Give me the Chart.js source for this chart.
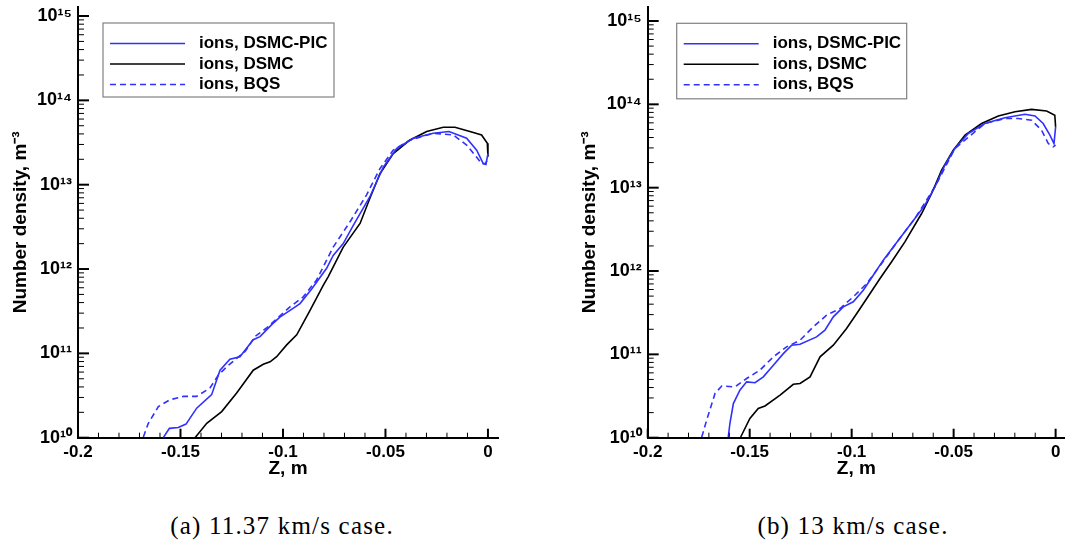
<!DOCTYPE html>
<html>
<head>
<meta charset="utf-8">
<script src="https://cdn.jsdelivr.net/npm/chart.js@4.4.0/dist/chart.umd.min.js"></script>
<style>
  body { margin: 0; background: #fff; width: 1065px; height: 550px; position: relative; overflow: hidden; }
  canvas { position: absolute; top: 0; }
  #chartA { left: 0; }
  #chartB { left: 532px; }
  .caption { position: absolute; top: 512px; font-family: "Liberation Serif", serif; font-size: 25px;
             letter-spacing: 1.2px; color: #000; white-space: nowrap; transform: translateX(-50%); }
</style>
</head>
<body>
<canvas id="chartA" width="532" height="480"></canvas>
<canvas id="chartB" width="533" height="480"></canvas>
<div class="caption" style="left:282px">(a) 11.37 km/s case.</div>
<div class="caption" style="left:853px">(b) 13 km/s case.</div>
<script>
// (a) 11.37 km/s  -- Z in m, ion number density in m^-3
var zA_pic = [-0.1584, -0.1554, -0.1511, -0.1473, -0.1421, -0.1348, -0.1307, -0.1259, -0.1210, -0.1145,
              -0.1112, -0.1055, -0.1015, -0.0960, -0.0917, -0.0860, -0.0787, -0.0755, -0.0706, -0.0657,
              -0.0576, -0.0510, -0.0445, -0.0364, -0.0267, -0.0190, -0.0104, -0.0055, -0.0023, -0.0010, 0.0];
var nA_pic = [1.0e10, 1.29e10, 1.32e10, 1.45e10, 2.24e10, 3.24e10, 6.3e10, 8.5e10, 9.1e10, 1.45e11,
              1.58e11, 2.19e11, 2.69e11, 3.3e11, 3.89e11, 5.8e11, 1.02e12, 1.45e12, 2.0e12, 3.3e12,
              7.2e12, 1.62e13, 2.69e13, 3.55e13, 4.07e13, 4.27e13, 3.55e13, 2.57e13, 1.78e13, 1.74e13, 2.34e13];

var zA_dsmc = [-0.1429, -0.1372, -0.1299, -0.1226, -0.1145, -0.1096, -0.1063, -0.1031, -0.0982, -0.0933,
               -0.0868, -0.0803, -0.0779, -0.0706, -0.0624, -0.0576, -0.0527, -0.0462, -0.0380, -0.0299,
               -0.0218, -0.0161, -0.0088, -0.0031, -0.0003, 0.0];
var nA_dsmc = [1.0e10, 1.48e10, 2.04e10, 3.39e10, 6.31e10, 7.41e10, 7.94e10, 9.12e10, 1.26e11, 1.66e11,
               3.24e11, 6.46e11, 8.13e11, 1.82e12, 3.47e12, 6.9e12, 1.35e13, 2.34e13, 3.39e13, 4.27e13,
               4.79e13, 4.79e13, 4.27e13, 3.89e13, 3.09e13, 2.14e13];

var zA_bqs = [-0.1681, -0.1657, -0.1608, -0.1551, -0.1486, -0.1421, -0.1356, -0.1316, -0.1275, -0.1226,
              -0.1185, -0.1137, -0.1080, -0.1031, -0.0966, -0.0901, -0.0836, -0.0755, -0.0673, -0.0592,
              -0.0527, -0.0462, -0.0380, -0.0267, -0.0169, -0.0104, -0.0063, -0.0031, -0.0012, -0.0004];
var nA_bqs = [1.02e10, 1.48e10, 2.34e10, 2.82e10, 3.09e10, 3.09e10, 3.89e10, 5.5e10, 6.92e10, 8.71e10,
              1.05e11, 1.58e11, 2.0e11, 2.57e11, 3.55e11, 4.68e11, 7.41e11, 1.82e12, 3.63e12, 7.59e12,
              1.55e13, 2.57e13, 3.39e13, 4.07e13, 3.89e13, 2.95e13, 2.24e13, 1.78e13, 1.78e13, 1.95e13];

// (b) 13 km/s
var zB_pic = [-0.1605, -0.1597, -0.1580, -0.1548, -0.1515, -0.1474, -0.1433, -0.1384, -0.1335, -0.1294,
              -0.1253, -0.1172, -0.1131, -0.1090, -0.1041, -0.0992, -0.0943, -0.0894, -0.0845, -0.0771,
              -0.0690, -0.0641, -0.0592, -0.0543, -0.0494, -0.0428, -0.0347, -0.0249, -0.0150, -0.0101,
              -0.0061, -0.0028, -0.0008, 0.0];
var nB_pic = [1.02e10, 1.48e10, 2.57e10, 3.72e10, 4.68e10, 4.57e10, 5.37e10, 7.41e10, 1.02e11, 1.29e11,
              1.32e11, 1.62e11, 1.95e11, 2.82e11, 3.72e11, 4.27e11, 5.89e11, 8.91e11, 1.35e12, 2.34e12,
              4.27e12, 6.17e12, 1.02e13, 1.86e13, 2.95e13, 4.47e13, 5.89e13, 6.92e13, 7.59e13, 7.24e13,
              5.89e13, 4.27e13, 3.39e13, 5.37e13];

var zB_dsmc = [-0.1544, -0.1499, -0.1458, -0.1425, -0.1351, -0.1286, -0.1253, -0.1204, -0.1155, -0.1090,
               -0.1025, -0.0975, -0.0926, -0.0861, -0.0804, -0.0739, -0.0657, -0.0608, -0.0559, -0.0502,
               -0.0444, -0.0363, -0.0281, -0.0199, -0.0118, -0.0044, -0.0004, 0.0];
var nB_dsmc = [1.02e10, 1.70e10, 2.24e10, 2.40e10, 3.24e10, 4.37e10, 4.47e10, 5.37e10, 9.33e10, 1.29e11,
               2.04e11, 3.09e11, 4.68e11, 8.13e11, 1.29e12, 2.24e12, 4.9e12, 8.51e12, 1.62e13, 2.82e13,
               4.27e13, 5.89e13, 7.24e13, 8.13e13, 8.71e13, 8.32e13, 7.41e13, 5.37e13];

var zB_bqs = [-0.1735, -0.1711, -0.1670, -0.1637, -0.1572, -0.1515, -0.1450, -0.1384, -0.1319, -0.1253,
              -0.1188, -0.1123, -0.1057, -0.0992, -0.0926, -0.0853, -0.0771, -0.0690, -0.0592, -0.0494,
              -0.0347, -0.0249, -0.0183, -0.0118, -0.0069, -0.0036, -0.0012, 0.0];
var nB_bqs = [1.02e10, 1.62e10, 3.39e10, 4.17e10, 4.07e10, 5.13e10, 6.46e10, 9.33e10, 1.23e11, 1.48e11,
              2.14e11, 2.95e11, 3.55e11, 4.9e11, 7.08e11, 1.23e12, 2.34e12, 4.27e12, 1.02e13, 2.95e13,
              5.89e13, 6.76e13, 6.76e13, 6.46e13, 4.9e13, 3.39e13, 3.09e13, 3.24e13];

var seriesLabels = ['ions, DSMC-PIC', 'ions, DSMC', 'ions, BQS'];
var xTickValues = [-0.2, -0.15, -0.1, -0.05, 0];
var xTickLabels = ['-0.2', '-0.15', '-0.1', '-0.05', '0'];
var yTickValues = [1e10, 1e11, 1e12, 1e13, 1e14, 1e15];
var yTickLabels = ['10\u00b9\u2070', '10\u00b9\u00b9', '10\u00b9\u00b2', '10\u00b9\u00b3', '10\u00b9\u2074', '10\u00b9\u2075'];

var FONT = '"Liberation Sans", Arial, Helvetica, sans-serif';
var BLUE = 'rgb(48,48,255)';

function pts(zs, ns) {
    return zs.map(function (z, i) { return {x: z, y: ns[i]}; });
}

function series(label, zs, ns, color, dash) {
    return {
        label: label,
        data: pts(zs, ns),
        borderColor: color,
        borderWidth: 1.6,
        borderDash: dash,
        pointRadius: 0,
        tension: 0,
        fill: false
    };
}

function xIndex(v) {
    for (var i = 0; i < xTickValues.length; i++) if (Math.abs(v - xTickValues[i]) < 1e-9) return i;
    return -1;
}
function yIndex(v) {
    for (var i = 0; i < yTickValues.length; i++) if (Math.abs(v / yTickValues[i] - 1) < 1e-6) return i;
    return -1;
}

// tick marks pointing into the plot, like the original figure
var insideTicks = {
    id: 'insideTicks',
    afterDatasetsDraw: function (chart) {
        var ctx = chart.ctx, a = chart.chartArea;
        var xs = chart.scales.x, ys = chart.scales.y;
        ctx.save();
        ctx.strokeStyle = '#000';
        xs.ticks.forEach(function (t) {
            var px = xs.getPixelForValue(t.value), major = xIndex(t.value) >= 0;
            ctx.lineWidth = major ? 2 : 1;
            ctx.beginPath();
            ctx.moveTo(px, a.bottom);
            ctx.lineTo(px, a.bottom - (major ? 9 : 5));
            ctx.stroke();
        });
        ys.ticks.forEach(function (t) {
            var py = ys.getPixelForValue(t.value), major = yIndex(t.value) >= 0;
            ctx.lineWidth = major ? 2 : 1;
            ctx.beginPath();
            ctx.moveTo(a.left, py);
            ctx.lineTo(a.left + (major ? 11 : 6), py);
            ctx.stroke();
        });
        ctx.restore();
    }
};

// framed legend placed inside the plot
var boxLegend = {
    id: 'boxLegend',
    afterDraw: function (chart, args, opts) {
        var ctx = chart.ctx, a = chart.chartArea;
        var x0 = a.left + opts.dx, y0 = a.top + opts.dy;
        ctx.save();
        ctx.fillStyle = '#fff';
        ctx.fillRect(x0, y0, opts.w, opts.h);
        ctx.strokeStyle = '#808080';
        ctx.lineWidth = 1.2;
        ctx.strokeRect(x0, y0, opts.w, opts.h);
        ctx.font = 'bold 17px ' + FONT;
        ctx.textBaseline = 'middle';
        chart.data.datasets.forEach(function (ds, i) {
            var y = y0 + 20.5 + i * 20.5;
            ctx.strokeStyle = ds.borderColor;
            ctx.lineWidth = ds.borderWidth;
            ctx.setLineDash(ds.borderDash || []);
            ctx.beginPath();
            ctx.moveTo(x0 + 7, y);
            ctx.lineTo(x0 + 82, y);
            ctx.stroke();
            ctx.setLineDash([]);
            ctx.fillStyle = '#000';
            ctx.fillText(ds.label, x0 + 96, y);
        });
        ctx.restore();
    }
};

function makeChart(id, pic, dsmc, bqs, xMax, yMax, pad, yWidth, legendPos) {
    return new Chart(document.getElementById(id), {
        type: 'line',
        data: {
            datasets: [
                series(seriesLabels[0], pic[0], pic[1], BLUE, []),
                series(seriesLabels[1], dsmc[0], dsmc[1], '#000', []),
                series(seriesLabels[2], bqs[0], bqs[1], BLUE, [6, 4])
            ]
        },
        plugins: [insideTicks, boxLegend],
        options: {
            responsive: false,
            animation: false,
            layout: {padding: pad},
            plugins: {
                legend: {display: false},
                tooltip: {enabled: false},
                boxLegend: legendPos
            },
            scales: {
                x: {
                    type: 'linear',
                    min: -0.2,
                    max: xMax,
                    afterBuildTicks: function (s) {
                        var t = [];
                        for (var i = -20; i <= 0; i++) t.push({value: i / 100});
                        s.ticks = t;
                    },
                    afterFit: function (s) {
                        s.height = 480 - 437.7;
                        s.paddingLeft = 0;
                        s.paddingRight = 0;
                    },
                    grid: {display: false, drawTicks: false},
                    border: {display: true, color: '#000', width: 2},
                    ticks: {
                        autoSkip: false,
                        maxRotation: 0,
                        padding: 4,
                        color: '#000',
                        font: {family: FONT, size: 17, weight: 'bold'},
                        callback: function (v) {
                            var k = xIndex(v);
                            return k < 0 ? '' : xTickLabels[k];
                        }
                    },
                    title: {
                        display: true,
                        text: 'Z, m',
                        color: '#000',
                        padding: 0,
                        font: {family: FONT, size: 19, weight: 'bold'}
                    }
                },
                y: {
                    type: 'logarithmic',
                    min: 1e10,
                    max: yMax,
                    afterBuildTicks: function (s) {
                        var t = [];
                        for (var e = 10; e < 15; e++) {
                            for (var m = 1; m < 10; m++) t.push({value: m * Math.pow(10, e)});
                        }
                        t.push({value: 1e15});
                        s.ticks = t;
                    },
                    afterFit: function (s) {
                        s.width = yWidth;
                        s.paddingTop = 0;
                        s.paddingBottom = 0;
                    },
                    grid: {display: false, drawTicks: false},
                    border: {display: true, color: '#000', width: 2},
                    ticks: {
                        autoSkip: false,
                        padding: 6,
                        color: '#000',
                        font: {family: FONT, size: 18, weight: 'bold'},
                        callback: function (v) {
                            var k = yIndex(v);
                            return k < 0 ? '' : yTickLabels[k];
                        }
                    },
                    title: {
                        display: true,
                        text: 'Number density, m\u207b\u00b3',
                        color: '#000',
                        padding: 0,
                        font: {family: FONT, size: 19, weight: 'bold'}
                    }
                }
            }
        }
    });
}

makeChart('chartA', [zA_pic, nA_pic], [zA_dsmc, nA_dsmc], [zA_bqs, nA_bqs],
    0.0049, Math.pow(10, 15.107), {left: 9, top: 7, right: 34, bottom: 0}, 69,
    {dx: 25, dy: 16, w: 231, h: 74});

makeChart('chartB', [zB_pic, nB_pic], [zB_dsmc, nB_dsmc], [zB_bqs, nB_bqs],
    0.0046, Math.pow(10, 15.168), {left: 46.6, top: 7, right: 0, bottom: 0}, 69.1,
    {dx: 29, dy: 16.3, w: 230, h: 75.5});
</script>
</body>
</html>
